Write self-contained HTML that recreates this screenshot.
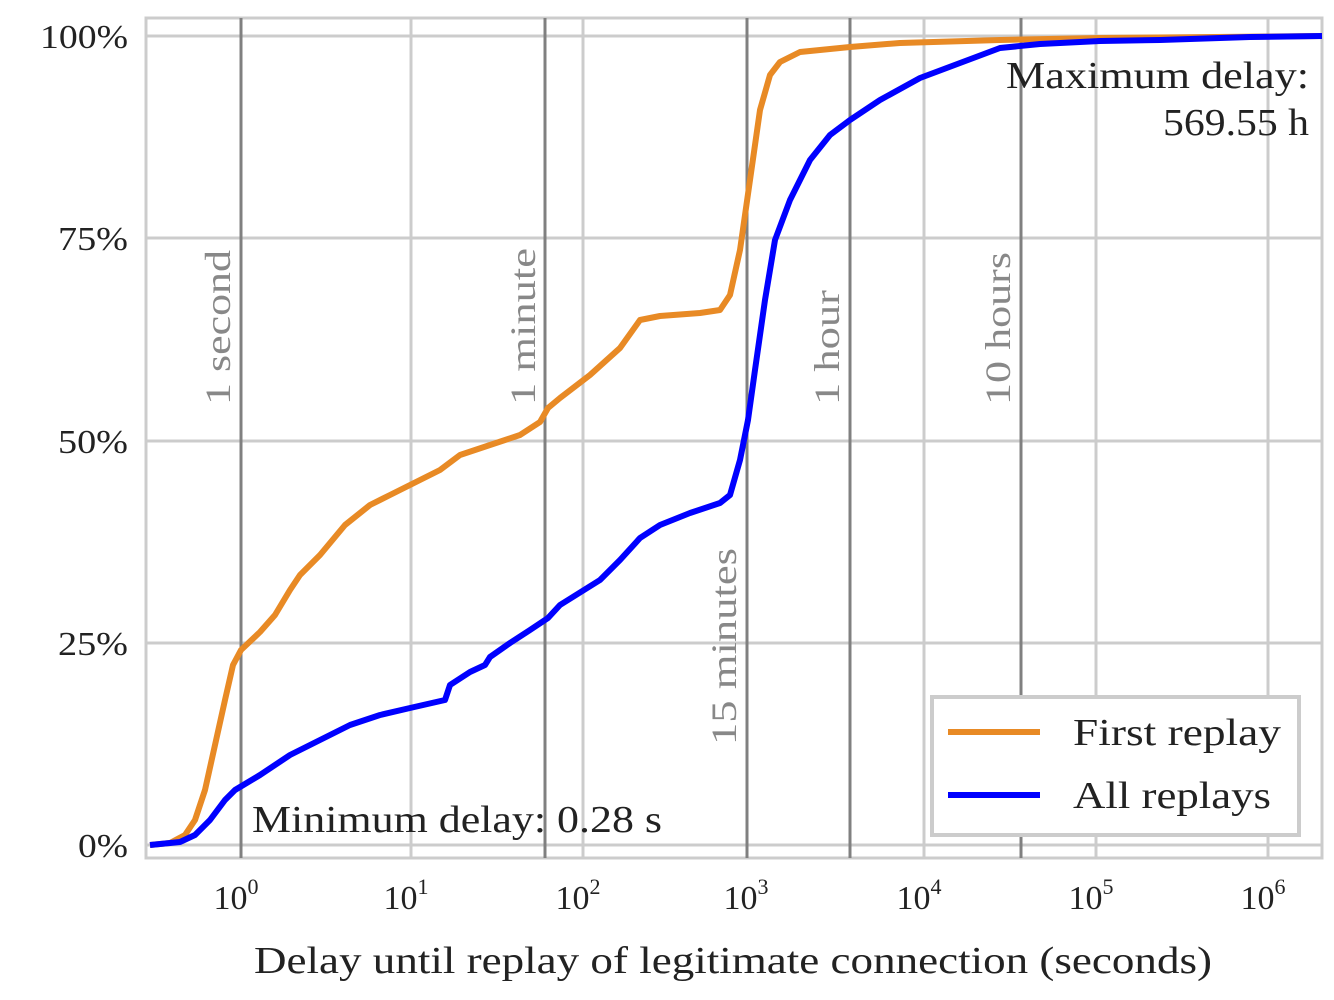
<!DOCTYPE html>
<html><head><style>body{margin:0;background:#fff}svg{display:block}text{font-family:"Liberation Serif",serif;fill:#222}</style></head><body>
<svg width="1334" height="1000" viewBox="0 0 1334 1000">
<rect x="146" y="18" width="1176" height="840" fill="#fff" stroke="#ccc" stroke-width="3"/>
<g stroke="#ccc" stroke-width="3">
<line x1="146" x2="1322" y1="643" y2="643"/><line x1="146" x2="1322" y1="441" y2="441"/><line x1="146" x2="1322" y1="238" y2="238"/><line x1="146" x2="1322" y1="36" y2="36"/><line x1="146" x2="1322" y1="845" y2="845"/>
<line x1="411" x2="411" y1="18" y2="858"/><line x1="583" x2="583" y1="18" y2="858"/><line x1="924" x2="924" y1="18" y2="858"/><line x1="1096" x2="1096" y1="18" y2="858"/><line x1="1268" x2="1268" y1="18" y2="858"/>
</g>
<g stroke="#808080" stroke-width="3">
<line x1="241" x2="241" y1="18" y2="858"/><line x1="545" x2="545" y1="18" y2="858"/><line x1="747" x2="747" y1="18" y2="858"/><line x1="850" x2="850" y1="18" y2="858"/><line x1="1021" x2="1021" y1="18" y2="858"/>
</g>
<g font-size="36" lengthAdjust="spacingAndGlyphs">
<text transform="translate(230,405) rotate(-90)" style="fill:#888" textLength="155" lengthAdjust="spacingAndGlyphs">1 second</text>
<text transform="translate(535,405) rotate(-90)" style="fill:#888" textLength="157" lengthAdjust="spacingAndGlyphs">1 minute</text>
<text transform="translate(736,745) rotate(-90)" style="fill:#888" textLength="197" lengthAdjust="spacingAndGlyphs">15 minutes</text>
<text transform="translate(839,405) rotate(-90)" style="fill:#888" textLength="115" lengthAdjust="spacingAndGlyphs">1 hour</text>
<text transform="translate(1010,405) rotate(-90)" style="fill:#888" textLength="153" lengthAdjust="spacingAndGlyphs">10 hours</text>
</g>
<polyline fill="none" stroke="#e88a25" stroke-width="6" stroke-linejoin="round" points="150,845 170,843 185,835 195,820 205,790 215,745 225,700 233,665 241,650 260,632 275,615 290,590 300,575 320,555 345,525 370,505 390,495 410,485 440,470 460,455 490,445 520,435 540,422 548,408 560,398 590,375 620,348 640,320 660,316 700,313 720,310 730,295 740,250 750,180 760,110 770,75 780,62 800,52 850,47 900,43 1000,40 1100,38 1322,36"/>
<polyline fill="none" stroke="#0000ff" stroke-width="6" stroke-linejoin="round" points="150,845 180,842 195,835 210,820 225,800 235,790 260,775 290,755 320,740 350,725 380,715 410,708 445,700 450,685 470,672 485,665 490,657 510,643 530,630 548,618 560,605 600,580 620,560 640,538 660,525 690,513 720,503 730,495 740,460 748,420 755,370 765,300 775,240 790,200 810,160 830,135 850,120 880,100 920,78 960,63 1000,48 1040,44 1100,41 1160,40 1250,37 1322,36"/>
<g font-size="34" text-anchor="end">
<text x="128" y="857" textLength="50" lengthAdjust="spacingAndGlyphs">0%</text><text x="128" y="655" textLength="70" lengthAdjust="spacingAndGlyphs">25%</text><text x="128" y="453" textLength="70" lengthAdjust="spacingAndGlyphs">50%</text><text x="128" y="250" textLength="70" lengthAdjust="spacingAndGlyphs">75%</text><text x="128" y="48" textLength="88" lengthAdjust="spacingAndGlyphs">100%</text>
</g>
<g font-size="34" text-anchor="middle">
<text x="236" y="909">10<tspan font-size="22" dy="-15">0</tspan></text>
<text x="406" y="909">10<tspan font-size="22" dy="-15">1</tspan></text>
<text x="578" y="909">10<tspan font-size="22" dy="-15">2</tspan></text>
<text x="746" y="909">10<tspan font-size="22" dy="-15">3</tspan></text>
<text x="919" y="909">10<tspan font-size="22" dy="-15">4</tspan></text>
<text x="1091" y="909">10<tspan font-size="22" dy="-15">5</tspan></text>
<text x="1263" y="909">10<tspan font-size="22" dy="-15">6</tspan></text>
</g>
<text x="254" y="973" font-size="38" textLength="958" lengthAdjust="spacingAndGlyphs">Delay until replay of legitimate connection (seconds)</text>
<text x="1006" y="88" font-size="38" textLength="303" lengthAdjust="spacingAndGlyphs">Maximum delay:</text>
<text x="1163" y="135" font-size="38" textLength="146" lengthAdjust="spacingAndGlyphs">569.55 h</text>
<text x="252" y="832" font-size="38" textLength="410" lengthAdjust="spacingAndGlyphs">Minimum delay: 0.28 s</text>
<rect x="932" y="697" width="367" height="138" fill="#fff" stroke="#ccc" stroke-width="4"/>
<line x1="948" x2="1040" y1="732" y2="732" stroke="#e88a25" stroke-width="6"/>
<line x1="948" x2="1040" y1="795" y2="795" stroke="#0000ff" stroke-width="6"/>
<text x="1073" y="745" font-size="38" textLength="208" lengthAdjust="spacingAndGlyphs">First replay</text>
<text x="1073" y="808" font-size="38" textLength="198" lengthAdjust="spacingAndGlyphs">All replays</text>
</svg>
</body></html>
